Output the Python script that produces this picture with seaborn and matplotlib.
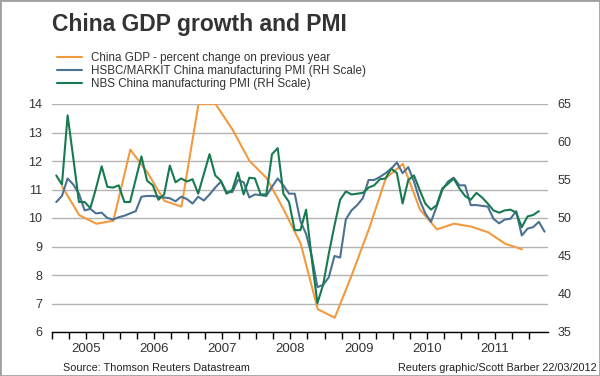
import numpy as np
import pandas as pd
import matplotlib
matplotlib.use("Agg")
import matplotlib.pyplot as plt
import seaborn as sns
from matplotlib.patches import Rectangle

# China GDP, % change on previous year, quarterly from Q1 2005
gdp = [11.1, 10.1, 9.8, 9.9,
       12.4, 11.6, 10.6, 10.4,
       14.0, 14.0, 13.1, 12.0,
       11.4, 10.3, 9.1, 6.8,
       6.5, 8.0, 9.6, 11.4,
       11.9, 10.3, 9.6, 9.8,
       9.7, 9.5, 9.1, 8.9]

# HSBC/Markit manufacturing PMI, monthly from Jan 2005 to Mar 2012
hsbc = [52.1, 52.9, 55.2, 54.4, 53.2, 51.0, 51.2, 50.6, 50.7, 50.0, 49.8, 50.1,
        50.3, 50.6, 50.9, 52.8, 52.9, 52.9, 52.8, 52.7, 52.6, 52.2, 52.8, 52.5,
        51.9, 52.8, 52.3, 53.1, 54.0, 54.8, 53.4, 53.4, 55.0, 54.7, 52.7, 53.1,
        53.0, 52.9, 54.1, 55.2, 54.3, 53.2, 53.2, 49.6, 47.9, 45.0, 40.9, 41.2,
        42.2, 45.0, 44.8, 49.8, 51.0, 51.7, 52.6, 55.0, 55.0, 55.4, 55.9, 56.5,
        57.3, 55.9, 56.7, 54.8, 52.4, 50.6, 49.5, 51.5, 53.7, 54.8, 55.3, 54.3,
        54.3, 51.7, 51.7, 51.6, 51.5, 49.9, 49.3, 49.8, 49.9, 50.9, 47.7, 48.6,
        48.8, 49.5, 48.2]

# NBS manufacturing PMI, monthly from Jan 2005 to Feb 2012
nbs = [55.6, 54.4, 63.5, 57.9, 52.1, 52.1, 51.3, 53.9, 56.8, 54.1, 54.0, 54.3,
       52.1, 52.1, 55.1, 58.1, 54.9, 54.3, 52.4, 53.1, 56.9, 54.7, 55.2, 54.8,
       55.1, 53.2, 55.8, 58.4, 55.6, 54.9, 53.2, 53.7, 56.0, 53.1, 55.3, 55.2,
       53.1, 53.1, 58.4, 59.2, 53.2, 52.1, 48.4, 48.4, 51.1, 44.6, 38.8, 41.2,
       45.3, 49.0, 52.4, 53.5, 53.1, 53.2, 53.3, 54.0, 54.3, 55.1, 55.2, 56.5,
       55.9, 51.9, 55.0, 55.6, 53.7, 51.9, 51.1, 51.7, 53.9, 54.5, 55.2, 53.9,
       52.9, 52.4, 53.3, 52.7, 51.9, 51.0, 50.7, 51.0, 51.1, 50.7, 48.8, 50.2,
       50.4, 50.9]

years = [2005, 2006, 2007, 2008, 2009, 2010, 2011]
labels = ["China GDP - percent change on previous year",
          "HSBC/MARKIT China manufacturing PMI (RH Scale)",
          "NBS China manufacturing PMI (RH Scale)"]
colors = ["#F29A3F", "#4C7193", "#177A50"]

gdp_df = pd.DataFrame({"x": 2005 + (np.arange(len(gdp)) + 0.6) / 4, "value": gdp})
hsbc_df = pd.DataFrame({"x": 2005 + (np.arange(len(hsbc)) + 0.75) / 12, "value": hsbc})
nbs_df = pd.DataFrame({"x": 2005 + (np.arange(len(nbs)) + 0.75) / 12, "value": nbs})

sns.set_theme(style="white")
plt.rcParams['font.family'] = ['Liberation Sans', 'DejaVu Sans']
txt = "#333333"

fig = plt.figure(figsize=(6, 3.76), dpi=100)
ax = fig.add_axes([52 / 600, 1 - 332 / 376, 496 / 600, 228 / 376])
ax2 = ax.twinx()

sns.lineplot(data=gdp_df, x="x", y="value", ax=ax, color=colors[0], lw=1.5)
sns.lineplot(data=hsbc_df, x="x", y="value", ax=ax2, color=colors[1], lw=1.5)
sns.lineplot(data=nbs_df, x="x", y="value", ax=ax2, color=colors[2], lw=1.5)

for a in (ax, ax2):
    if a.get_legend():
        a.get_legend().remove()
    a.set_xlabel("")
    a.set_ylabel("")
    for s in a.spines.values():
        s.set_visible(False)

ax.spines["bottom"].set_visible(True)
ax.spines["bottom"].set_color("black")
ax.spines["bottom"].set_linewidth(1)

ax.set_ylim(6, 14)
ax.set_yticks(range(6, 15))
ax.tick_params(axis="y", length=0, pad=7, labelsize=9, labelcolor=txt)
ax.set_axisbelow(True)
ax.yaxis.grid(True, color="#b4b4b4", lw=1)
ax.xaxis.grid(False)

ax2.set_ylim(35, 65)
ax2.set_yticks(range(35, 66, 5))
ax2.tick_params(axis="y", length=0, pad=7, labelsize=9, labelcolor=txt)
ax2.grid(False)

# quarter tick marks, year labels centred in each year
ax.xaxis.remove_overlapping_locs = False
ax.set_xlim(2005.0, 2012.28)
ax.set_xticks(np.arange(2005, 2012.01, 0.25), labels=[""] * 29)
ax.set_xticks([y + 0.5 for y in years], labels=[str(y) for y in years], minor=True)
ax.tick_params(axis="x", which="major", direction="out", length=5, width=1,
               color="black", bottom=True)
ax.tick_params(axis="x", which="minor", bottom=True, labelbottom=True, length=0,
               pad=8, labelsize=9.5, labelcolor=txt)

fig.text(52 / 600, 1 - 30.5 / 376, "China GDP growth and PMI", fontsize=16.5,
         fontweight="bold", color=txt, va="baseline")

handles = [ax.get_lines()[0], ax2.get_lines()[0], ax2.get_lines()[1]]
leg = fig.legend(handles, labels, loc="upper left",
                 bbox_to_anchor=(57 / 600, 1 - 52 / 376), frameon=False,
                 fontsize=8.4, handlelength=2.15, handletextpad=0.75,
                 labelspacing=0.08, borderpad=0, borderaxespad=0)
for t in leg.get_texts():
    t.set_color(txt)

fig.text(63 / 600, 1 - 368 / 376, "Source: Thomson Reuters Datastream",
         fontsize=7.8, color="#222222", va="center")
fig.text(597 / 600, 1 - 368 / 376, "Reuters graphic/Scott Barber 22/03/2012",
         fontsize=7.8, color="#222222", va="center", ha="right")

fig.add_artist(Rectangle((0, 0), 1, 1, transform=fig.transFigure, fill=False,
                         edgecolor="#a0a0a0", lw=2))

fig.savefig("out.png", dpi=100)
